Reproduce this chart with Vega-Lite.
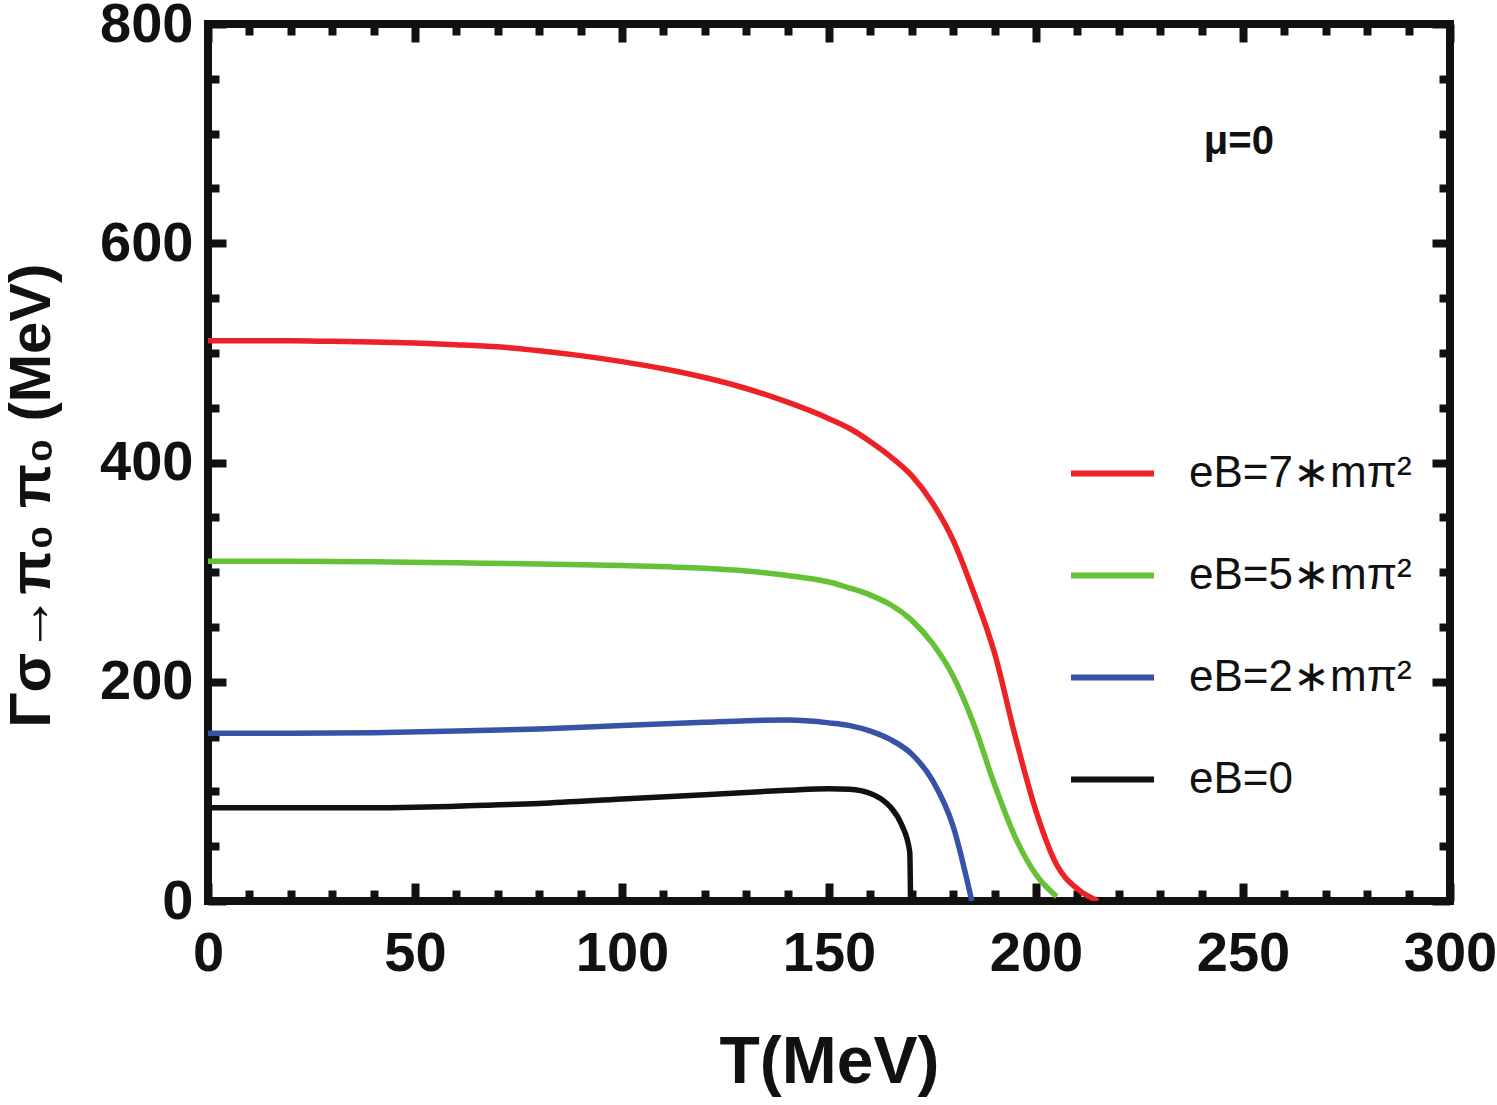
{
  "$schema": "https://vega.github.io/schema/vega-lite/v6.json",
  "autosize": {"type": "none"},
  "width": 1242,
  "height": 877,
  "padding": {"left": 208, "top": 24, "right": 47, "bottom": 204},
  "background": "white",
  "config": {
    "view": {"stroke": "#111111", "strokeWidth": 8},
    "axis": {"domain": false, "grid": false, "tickColor": "#111111", "tickWidth": 8, "labelColor": "#111111", "titleColor": "#111111"},
    "font": "Liberation Sans"
  },
  "datasets": {
    "curves": [
      {"series": "eB=7∗mπ²", "T": 0, "G": 511},
      {"series": "eB=7∗mπ²", "T": 10, "G": 511},
      {"series": "eB=7∗mπ²", "T": 20, "G": 511},
      {"series": "eB=7∗mπ²", "T": 30, "G": 510.5},
      {"series": "eB=7∗mπ²", "T": 40, "G": 510},
      {"series": "eB=7∗mπ²", "T": 50, "G": 509},
      {"series": "eB=7∗mπ²", "T": 60, "G": 507.5},
      {"series": "eB=7∗mπ²", "T": 70, "G": 505.5},
      {"series": "eB=7∗mπ²", "T": 80, "G": 502},
      {"series": "eB=7∗mπ²", "T": 90, "G": 497.5},
      {"series": "eB=7∗mπ²", "T": 100, "G": 492},
      {"series": "eB=7∗mπ²", "T": 110, "G": 485.5},
      {"series": "eB=7∗mπ²", "T": 120, "G": 477.5},
      {"series": "eB=7∗mπ²", "T": 130, "G": 467.5},
      {"series": "eB=7∗mπ²", "T": 140, "G": 455},
      {"series": "eB=7∗mπ²", "T": 150, "G": 440},
      {"series": "eB=7∗mπ²", "T": 155, "G": 431},
      {"series": "eB=7∗mπ²", "T": 160, "G": 419},
      {"series": "eB=7∗mπ²", "T": 165, "G": 405},
      {"series": "eB=7∗mπ²", "T": 170, "G": 388},
      {"series": "eB=7∗mπ²", "T": 175, "G": 363},
      {"series": "eB=7∗mπ²", "T": 180, "G": 329},
      {"series": "eB=7∗mπ²", "T": 185, "G": 281},
      {"series": "eB=7∗mπ²", "T": 190, "G": 226},
      {"series": "eB=7∗mπ²", "T": 195, "G": 150},
      {"series": "eB=7∗mπ²", "T": 200, "G": 82},
      {"series": "eB=7∗mπ²", "T": 205, "G": 33},
      {"series": "eB=7∗mπ²", "T": 210, "G": 11},
      {"series": "eB=7∗mπ²", "T": 215, "G": 0},
      {"series": "eB=5∗mπ²", "T": 0, "G": 310},
      {"series": "eB=5∗mπ²", "T": 20, "G": 310},
      {"series": "eB=5∗mπ²", "T": 40, "G": 309.5},
      {"series": "eB=5∗mπ²", "T": 60, "G": 308.5},
      {"series": "eB=5∗mπ²", "T": 80, "G": 307.5},
      {"series": "eB=5∗mπ²", "T": 100, "G": 306},
      {"series": "eB=5∗mπ²", "T": 120, "G": 303.5},
      {"series": "eB=5∗mπ²", "T": 130, "G": 301},
      {"series": "eB=5∗mπ²", "T": 140, "G": 297},
      {"series": "eB=5∗mπ²", "T": 150, "G": 291},
      {"series": "eB=5∗mπ²", "T": 155, "G": 285.5},
      {"series": "eB=5∗mπ²", "T": 160, "G": 279},
      {"series": "eB=5∗mπ²", "T": 165, "G": 270},
      {"series": "eB=5∗mπ²", "T": 170, "G": 256},
      {"series": "eB=5∗mπ²", "T": 175, "G": 235},
      {"series": "eB=5∗mπ²", "T": 180, "G": 205},
      {"series": "eB=5∗mπ²", "T": 185, "G": 161},
      {"series": "eB=5∗mπ²", "T": 190, "G": 106},
      {"series": "eB=5∗mπ²", "T": 195, "G": 58},
      {"series": "eB=5∗mπ²", "T": 200, "G": 24},
      {"series": "eB=5∗mπ²", "T": 205, "G": 4},
      {"series": "eB=2∗mπ²", "T": 0, "G": 153},
      {"series": "eB=2∗mπ²", "T": 20, "G": 153},
      {"series": "eB=2∗mπ²", "T": 40, "G": 153.5},
      {"series": "eB=2∗mπ²", "T": 60, "G": 155},
      {"series": "eB=2∗mπ²", "T": 80, "G": 157},
      {"series": "eB=2∗mπ²", "T": 100, "G": 160},
      {"series": "eB=2∗mπ²", "T": 120, "G": 163},
      {"series": "eB=2∗mπ²", "T": 130, "G": 164.5},
      {"series": "eB=2∗mπ²", "T": 140, "G": 165},
      {"series": "eB=2∗mπ²", "T": 150, "G": 162.5},
      {"series": "eB=2∗mπ²", "T": 155, "G": 160},
      {"series": "eB=2∗mπ²", "T": 160, "G": 155},
      {"series": "eB=2∗mπ²", "T": 165, "G": 147},
      {"series": "eB=2∗mπ²", "T": 170, "G": 134},
      {"series": "eB=2∗mπ²", "T": 175, "G": 110},
      {"series": "eB=2∗mπ²", "T": 180, "G": 68},
      {"series": "eB=2∗mπ²", "T": 184.5, "G": 0},
      {"series": "eB=0", "T": 0, "G": 85},
      {"series": "eB=0", "T": 20, "G": 85},
      {"series": "eB=0", "T": 40, "G": 85},
      {"series": "eB=0", "T": 50, "G": 85.5},
      {"series": "eB=0", "T": 60, "G": 86.5},
      {"series": "eB=0", "T": 80, "G": 89},
      {"series": "eB=0", "T": 100, "G": 93},
      {"series": "eB=0", "T": 120, "G": 97},
      {"series": "eB=0", "T": 130, "G": 99},
      {"series": "eB=0", "T": 140, "G": 101},
      {"series": "eB=0", "T": 150, "G": 102.5},
      {"series": "eB=0", "T": 155, "G": 102},
      {"series": "eB=0", "T": 160, "G": 98},
      {"series": "eB=0", "T": 163, "G": 92},
      {"series": "eB=0", "T": 165, "G": 85},
      {"series": "eB=0", "T": 167.5, "G": 70},
      {"series": "eB=0", "T": 169.5, "G": 45},
      {"series": "eB=0", "T": 169.7, "G": 0}
    ],
    "notes": [
      {"label": "μ=0", "T": 249, "G": 692}
    ]
  },
  "layer": [
    {
      "data": {"name": "curves"},
      "mark": {"type": "line", "strokeWidth": 5.5, "interpolate": "monotone", "clip": true},
      "encoding": {
        "x": {
          "field": "T", "type": "quantitative",
          "scale": {"domain": [0, 300], "nice": false, "zero": false},
          "axis": {
            "orient": "bottom",
            "values": [0,10,20,30,40,50,60,70,80,90,100,110,120,130,140,150,160,170,180,190,200,210,220,230,240,250,260,270,280,290,300],
            "labelExpr": "datum.value % 50 === 0 ? datum.label : ''",
            "tickSize": {"condition": {"test": "datum.value % 50 === 0", "value": -18}, "value": -11},
            "labelFont": "Liberation Sans", "labelFontWeight": "bold", "labelFontSize": 56,
            "labelPadding": 43, "labelFlush": false, "labelOverlap": false,
            "title": "T(MeV)", "titleFont": "Liberation Sans", "titleFontWeight": "bold", "titleFontSize": 66,
            "titlePadding": 42
          }
        },
        "y": {
          "field": "G", "type": "quantitative",
          "scale": {"domain": [0, 800], "nice": false, "zero": false},
          "axis": {
            "orient": "left",
            "values": [0,50,100,150,200,250,300,350,400,450,500,550,600,650,700,750,800],
            "labelExpr": "datum.value % 200 === 0 ? datum.label : ''",
            "tickSize": {"condition": {"test": "datum.value % 200 === 0", "value": -18}, "value": -11},
            "labelFont": "Liberation Sans", "labelFontWeight": "bold", "labelFontSize": 56,
            "labelPadding": 33, "labelFlush": false, "labelOverlap": false,
            "title": "Γσ→π₀ π₀ (MeV)", "titleFont": "Liberation Sans", "titleFontWeight": "bold", "titleFontSize": 58,
            "titleX": -147, "titleY": 471, "titleAnchor": "middle"
          }
        },
        "color": {
          "field": "series", "type": "nominal",
          "scale": {
            "domain": ["eB=7∗mπ²", "eB=5∗mπ²", "eB=2∗mπ²", "eB=0"],
            "range": ["#EC2227", "#65C236", "#3752A6", "#111111"]
          },
          "legend": {
            "orient": "none", "legendX": 860, "legendY": 405,
            "title": null, "padding": 0,
            "labelFont": "Liberation Sans", "labelFontSize": 44, "labelColor": "#111111", "labelLimit": 500,
            "symbolType": "stroke", "symbolSize": 6889, "symbolStrokeWidth": 6,
            "labelOffset": 32, "rowPadding": 35
          }
        }
      }
    },
    {
      "data": {"name": "notes"},
      "mark": {"type": "text", "font": "Liberation Sans", "fontWeight": "bold", "fontSize": 40, "color": "#111111"},
      "encoding": {
        "x": {
          "field": "T", "type": "quantitative",
          "axis": {
            "orient": "top", "labels": false, "title": null,
            "values": [0,10,20,30,40,50,60,70,80,90,100,110,120,130,140,150,160,170,180,190,200,210,220,230,240,250,260,270,280,290,300],
            "tickSize": {"condition": {"test": "datum.value % 50 === 0", "value": -18}, "value": -11}
          }
        },
        "y": {
          "field": "G", "type": "quantitative",
          "axis": {
            "orient": "right", "labels": false, "title": null,
            "values": [0,50,100,150,200,250,300,350,400,450,500,550,600,650,700,750,800],
            "tickSize": {"condition": {"test": "datum.value % 200 === 0", "value": -18}, "value": -11}
          }
        },
        "text": {"field": "label", "type": "nominal"}
      }
    }
  ],
  "resolve": {"axis": {"x": "independent", "y": "independent"}}
}
